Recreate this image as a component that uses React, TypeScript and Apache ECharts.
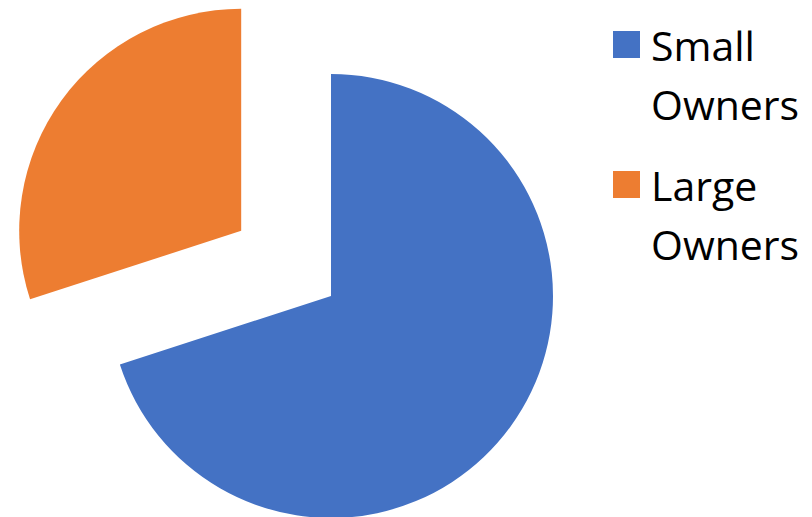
import React, { useEffect, useRef } from "react";
import * as echarts from "echarts";

const categories = ["Small Owners", "Large Owners"];
const values = [70, 30];
const colors = ["#4472C4", "#ED7D31"];
const explodedIndex = 1;

export default function App() {
  const ref = useRef<HTMLDivElement>(null);
  useEffect(() => {
    if (!ref.current) return;
    const chart = echarts.init(ref.current, null, { renderer: "svg" });
    chart.setOption({
      animation: false,
      legend: {
        orient: "vertical",
        left: 613,
        top: -44,
        padding: 0,
        itemWidth: 27,
        itemHeight: 27,
        itemGap: -37,
        icon: "rect",
        selectedMode: false,
        data: categories,
        formatter: (name: string) => " \n" + name.replace(" ", "\n"),
        textStyle: {
          fontFamily: "Open Sans",
          fontSize: 41,
          lineHeight: 59,
          color: "#000",
          padding: [0, 0, 0, 6],
        },
      },
      series: [
        {
          type: "pie",
          center: [331, 296],
          radius: 222,
          startAngle: 90,
          clockwise: true,
          silent: true,
          selectedMode: "single",
          selectedOffset: 111,
          label: { show: false },
          labelLine: { show: false },
          emphasis: { disabled: true },
          data: categories.map((name, i) => ({
            name,
            value: values[i],
            selected: i === explodedIndex,
            itemStyle: { color: colors[i], borderWidth: 0 },
            select: { itemStyle: { color: colors[i], borderWidth: 0 } },
          })),
        },
      ],
    });
    return () => chart.dispose();
  }, []);
  return (
    <div
      ref={ref}
      style={{ position: "absolute", left: 0, top: 0, width: 812, height: 517 }}
    />
  );
}
